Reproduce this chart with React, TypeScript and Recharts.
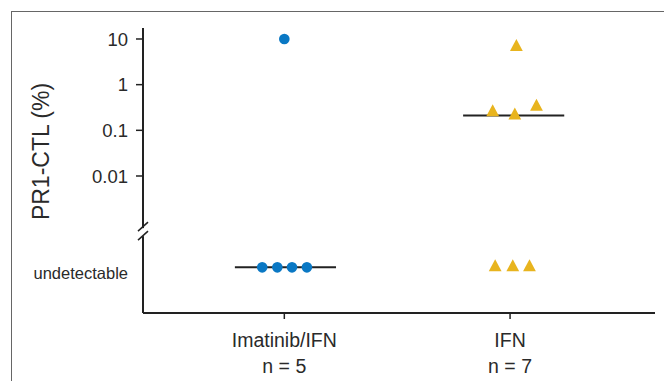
import React from 'react';
import { ScatterChart, Scatter, XAxis, YAxis } from 'recharts';

// ---- data ----
const groups = ['Imatinib/IFN', 'IFN'];
const groupCounts = [5, 7];
const UNDETECTABLE = 0.0001; // plotting level used for "undetectable"
const BREAK_LEVEL = 0.00059; // where the axis break is drawn
const yTickValues = [UNDETECTABLE, BREAK_LEVEL, 0.01, 0.1, 1, 10];

// null = undetectable
const imatinibValues: (number | null)[] = [10, null, null, null, null];
const imatinibJitter = [0, -0.098, -0.031, 0.034, 0.1];
const ifnValues: (number | null)[] = [6.7, 0.25, 0.21, 0.33, null, null, null];
const ifnJitter = [0.028, -0.077, 0.021, 0.117, -0.066, 0.012, 0.086];

const medians: (number | null)[] = [null, 0.21];
const medianOffset = [0.005, 0.016];
const medianHalfWidth = 0.224;

// ---- derived tables ----
const toPoints = (vals: (number | null)[], jit: number[], g: number) =>
  vals.map((v, i) => ({ x: g + jit[i], y: v == null ? UNDETECTABLE : v }));

const imatinibData = toPoints(imatinibValues, imatinibJitter, 1);
const ifnData = toPoints(ifnValues, ifnJitter, 2);
const medianData = medians.map((m, i) => {
  const c = i + 1 + medianOffset[i];
  const y = m == null ? UNDETECTABLE : m;
  return [
    { x: c - medianHalfWidth, y },
    { x: c + medianHalfWidth, y },
  ];
});

const FONT = '"Liberation Sans", Arial, Helvetica, sans-serif';
const TEXT = '#2a2a2a';
const AXIS = '#222';
const BLUE = '#0a78c4';
const GOLD = '#e8b41e';

const YTick = (props: any) => {
  const { x, y, payload } = props;
  const v = payload.value;
  const axisX = x + 15;
  if (Math.abs(v - BREAK_LEVEL) < 1e-9) {
    return (
      <g>
        <rect x={axisX - 3} y={y - 4} width={6} height={8} fill="#fff" />
        <line x1={axisX - 5} y1={y - 1} x2={axisX + 5} y2={y - 10} stroke={AXIS} strokeWidth={1.5} />
        <line x1={axisX - 5} y1={y + 8} x2={axisX + 5} y2={y - 1} stroke={AXIS} strokeWidth={1.5} />
      </g>
    );
  }
  if (Math.abs(v - UNDETECTABLE) < 1e-12) {
    return (
      <text x={x} y={y} dy={12} textAnchor="end" fontFamily={FONT} fontSize={16.5} fill={TEXT}>
        undetectable
      </text>
    );
  }
  return (
    <g>
      <line x1={x + 8} y1={y} x2={axisX} y2={y} stroke={AXIS} strokeWidth={1.5} />
      <text x={x} y={y} dy="0.355em" textAnchor="end" fontFamily={FONT} fontSize={18.5} fill={TEXT}>
        {String(v)}
      </text>
    </g>
  );
};

const XTick = (props: any) => {
  const { x, y, payload } = props;
  const i = Math.round(payload.value) - 1;
  return (
    <text x={x} y={y} textAnchor="middle" fontFamily={FONT} fontSize={19.5} fill={TEXT}>
      <tspan x={x} dy={24}>{groups[i]}</tspan>
      <tspan x={x} dy={26}>{`n = ${groupCounts[i]}`}</tspan>
    </text>
  );
};

const Dot = (props: any) => {
  const { cx, cy } = props;
  if (cx == null || cy == null) return null;
  return <circle cx={cx} cy={cy} r={5.3} fill={BLUE} />;
};

const Tri = (props: any) => {
  const { cx, cy } = props;
  if (cx == null || cy == null) return null;
  const hw = 6.4;
  return <polygon points={`${cx},${cy - 8} ${cx + hw},${cy + 4} ${cx - hw},${cy + 4}`} fill={GOLD} />;
};

const NoShape = () => null;

const YLabel = (props: any) => {
  const vb = props.viewBox || { x: 0, y: 28, width: 143, height: 285 };
  const cx = vb.x + 49;
  const cy = vb.y + vb.height / 2 - 19;
  return (
    <text
      x={cx}
      y={cy}
      transform={`rotate(-90, ${cx}, ${cy})`}
      textAnchor="middle"
      fontFamily={FONT}
      fontSize={23}
      fill={TEXT}
    >
      PR1-CTL (%)
    </text>
  );
};

export default function App() {
  return (
    <div style={{ position: 'absolute', left: 0, top: 0, width: 664, height: 381, background: '#fff', overflow: 'hidden' }}>
      <div
        style={{
          position: 'absolute',
          left: 10.5,
          top: 10.5,
          width: 700,
          height: 400,
          borderLeft: '1.5px solid #666',
          borderTop: '1.5px solid #666',
        }}
      />
      <div style={{ position: 'absolute', left: 0, top: 0 }}>
        <ScatterChart width={664} height={381} margin={{ top: 28, right: 9, bottom: 0, left: 0 }}>
          <XAxis
            type="number"
            dataKey="x"
            domain={[0.374, 2.642]}
            ticks={[1, 2]}
            allowDataOverflow
            axisLine={{ stroke: AXIS, strokeWidth: 2 }}
            tickLine={{ stroke: AXIS, strokeWidth: 1.5 }}
            tickSize={6}
            tickMargin={4}
            height={68}
            tick={<XTick />}
          />
          <YAxis
            type="number"
            dataKey="y"
            scale="log"
            domain={[0.00001, 17.4]}
            allowDataOverflow
            ticks={yTickValues}
            interval={0}
            width={143}
            axisLine={{ stroke: AXIS, strokeWidth: 2 }}
            tickLine={false}
            tickSize={7}
            tickMargin={8}
            tick={<YTick />}
            label={<YLabel />}
          />
          {medianData.map((seg, i) => (
            <Scatter
              key={`m${i}`}
              data={seg}
              line={{ stroke: AXIS, strokeWidth: 2 }}
              shape={<NoShape />}
              isAnimationActive={false}
            />
          ))}
          <Scatter data={imatinibData} shape={<Dot />} isAnimationActive={false} />
          <Scatter data={ifnData} shape={<Tri />} isAnimationActive={false} />
        </ScatterChart>
      </div>
    </div>
  );
}
